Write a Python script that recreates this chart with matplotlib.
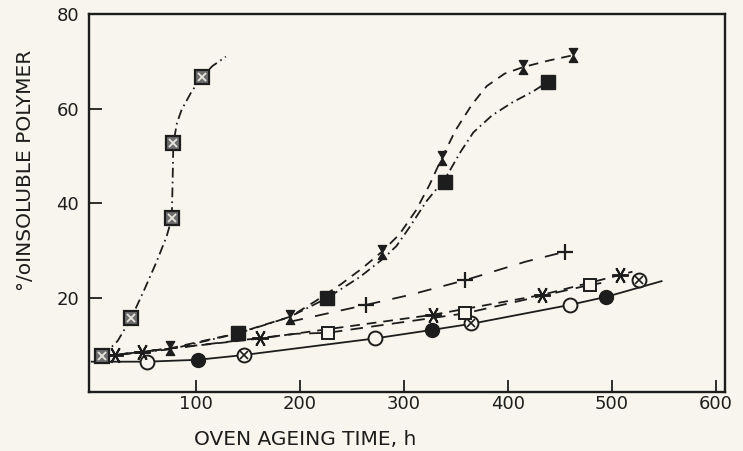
import matplotlib
matplotlib.use("Agg")
import matplotlib.pyplot as plt
from matplotlib.path import Path

plt.rcParams['font.family'] = ['DejaVu Sans']
plt.rcParams['lines.scale_dashes'] = False

INK = '#1d1d1d'
PAPER = '#f7f5ed'

# ---- measured samples (time in h, % insoluble polymer) ----
hatched_sq_x = [10, 38, 77, 78.5, 106]
hatched_sq_y = [7.7, 15.8, 36.9, 52.7, 66.7]

hourglass_x = [75, 191, 279, 336.5, 415, 463]
hourglass_y = [9.4, 16.1, 29.8, 49.5, 68.8, 71.3]

filled_sq_x = [141, 226, 340, 439]
filled_sq_y = [12.6, 20.0, 44.6, 65.7]

star_x = [22, 48, 162, 328, 433, 508]
star_y = [8.0, 8.7, 11.5, 16.5, 20.7, 24.9]

open_sq_x = [227, 359, 479]
open_sq_y = [12.7, 16.8, 22.8]

plus_x = [264, 359, 455]
plus_y = [18.6, 23.8, 29.8]

open_circ_x = [53, 272, 460]
open_circ_y = [6.6, 11.5, 18.6]

filled_circ_x = [102, 327, 495]
filled_circ_y = [7.0, 13.3, 20.3]

crossed_circ_x = [146, 365, 526]
crossed_circ_y = [8.0, 14.7, 23.8]

# ---- hand-fitted trend curves ----
hatched_curve_x = [10, 25, 38, 50, 62, 72, 77, 77.8, 78.5, 82, 86.5, 96, 106, 116, 129]
hatched_curve_y = [7.7, 11.0, 15.8, 21.5, 27.5, 33.0, 36.9, 44.5, 52.7, 57.0, 59.8,
                   63.6, 66.7, 69.0, 71.0]

hourglass_curve_x = [10, 75, 140, 191, 216, 240, 260, 279, 296, 312, 325, 336.5,
                     350, 366, 380, 397, 415, 440, 463]
hourglass_curve_y = [7.7, 9.4, 12.6, 16.1, 19.5, 23.0, 26.3, 29.8, 33.5, 38.6, 44.0,
                     49.5, 55.5, 61.0, 64.8, 67.4, 68.8, 70.2, 71.3]

filled_sq_curve_x = [10, 75, 141, 190, 226, 258, 280, 293, 306, 322, 340, 355, 367,
                     385, 405, 424, 439]
filled_sq_curve_y = [7.7, 9.2, 12.6, 16.0, 20.0, 24.5, 28.3, 31.0, 35.1, 40.5, 45.3,
                     51.0, 55.0, 58.6, 61.4, 63.6, 65.7]

star_curve_x = [10, 22, 48, 162, 328, 433, 508, 520]
star_curve_y = [7.7, 8.0, 8.7, 11.5, 16.5, 20.7, 24.9, 25.6]

open_sq_curve_x = [10, 197, 227, 359, 479, 490]
open_sq_curve_y = [7.7, 12.5, 12.7, 16.8, 22.8, 23.2]

plus_curve_x = [190, 229, 264, 306, 359, 417, 455]
plus_curve_y = [15.0, 16.9, 18.6, 20.7, 23.8, 27.7, 29.8]

solid_curve_x = [0, 53, 102, 146, 272, 327, 365, 460, 495, 548]
solid_curve_y = [6.6, 6.6, 7.0, 8.0, 11.5, 13.3, 14.6, 18.6, 20.3, 23.6]

x_ticks = [100, 200, 300, 400, 500, 600]
y_ticks = [20, 40, 60, 80]

DASHED = (0, (7, 5))
DASH_DOT = (0, (7, 3, 1.2, 3))

hourglass_marker = Path([(-0.6, 1), (0.6, 1), (-0.6, -1), (0.6, -1), (-0.6, 1)],
                        [Path.MOVETO, Path.LINETO, Path.LINETO, Path.LINETO, Path.CLOSEPOLY])

fig = plt.figure(figsize=(7.43, 4.51), dpi=100, facecolor=PAPER)
ax = fig.add_axes([89 / 743, 1 - 392 / 451, (725 - 89) / 743, (392 - 14) / 451])
ax.set_facecolor(PAPER)

lw = 1.3
# trend curves
ax.plot(hatched_curve_x, hatched_curve_y, color=INK, lw=lw, ls=DASH_DOT)
ax.plot(hourglass_curve_x, hourglass_curve_y, color=INK, lw=lw, ls=DASHED)
ax.plot(filled_sq_curve_x, filled_sq_curve_y, color=INK, lw=lw, ls=DASH_DOT)
ax.plot(star_curve_x, star_curve_y, color=INK, lw=lw, ls=DASHED)
ax.plot(open_sq_curve_x, open_sq_curve_y, color=INK, lw=lw, ls=(0, (9, 6)))
ax.plot(plus_curve_x, plus_curve_y, color=INK, lw=lw, ls=(0, (10, 9)))
ax.plot(solid_curve_x, solid_curve_y, color=INK, lw=lw, ls='-')

# markers
ax.plot(open_circ_x, open_circ_y, 'o', ms=10, mfc=PAPER, mec=INK, mew=1.4)
ax.plot(filled_circ_x, filled_circ_y, 'o', ms=10, mfc=INK, mec=INK)
ax.plot(crossed_circ_x, crossed_circ_y, 'o', ms=10, mfc=PAPER, mec=INK, mew=1.4)
ax.plot(crossed_circ_x, crossed_circ_y, 'x', ms=6, mec=INK, mew=1.2)
ax.plot(open_sq_x, open_sq_y, 's', ms=9, mfc=PAPER, mec=INK, mew=1.4)
ax.plot(plus_x, plus_y, '+', ms=11, mec=INK, mew=1.6)
ax.plot(star_x, star_y, marker=(6, 2, 90), ls='none', ms=12, mec=INK, mew=1.4)
ax.plot(filled_sq_x, filled_sq_y, 's', ms=10, mfc=INK, mec=INK)
ax.plot(hourglass_x, hourglass_y, marker=hourglass_marker, ls='none', ms=10,
        mfc=INK, mec=INK, mew=1.0)
ax.plot(hatched_sq_x, hatched_sq_y, 's', ms=10, mfc='#6e6e6e', mec=INK, mew=1.6)
ax.plot(hatched_sq_x, hatched_sq_y, 'x', ms=6, mec='#e8e6de', mew=1.3)

ax.set_xlim(-2.6, 609)
ax.set_ylim(0.2, 80)
ax.set_xticks(x_ticks)
ax.set_yticks(y_ticks)
ax.tick_params(axis='both', direction='in', length=9, width=1.3, colors=INK,
               labelsize=13)
ax.tick_params(axis='x', pad=2)
ax.tick_params(axis='y', pad=7)
for s in ax.spines.values():
    s.set_linewidth(1.7)
    s.set_color(INK)

ax.set_xlabel('OVEN AGEING TIME, h', fontsize=14.5, color=INK)
ax.xaxis.set_label_coords(0.340, -0.100)
ax.set_ylabel('°/oINSOLUBLE POLYMER', fontsize=14.5, color=INK)
ax.yaxis.set_label_coords(-0.085, 0.585)

fig.savefig('out.png', dpi=100, facecolor=PAPER)
